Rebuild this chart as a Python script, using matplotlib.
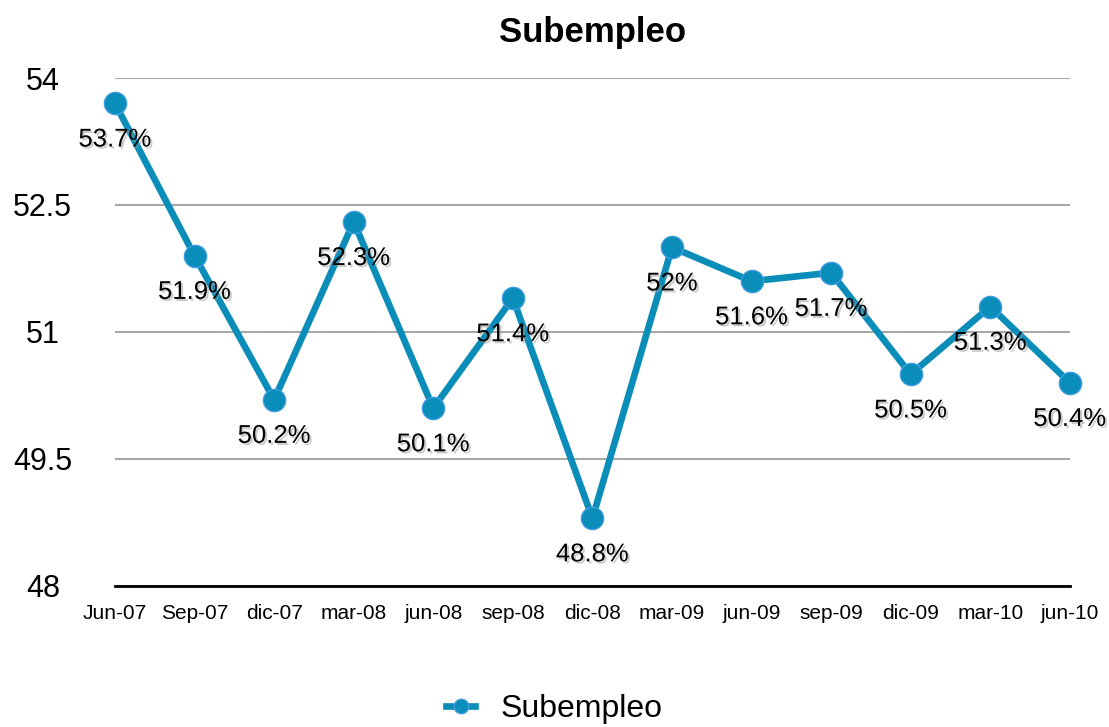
import matplotlib.pyplot as plt
import matplotlib.patheffects as pe

periods = ['Jun-07', 'Sep-07', 'dic-07', 'mar-08', 'jun-08', 'sep-08', 'dic-08',
           'mar-09', 'jun-09', 'sep-09', 'dic-09', 'mar-10', 'jun-10']
subempleo = [53.7, 51.9, 50.2, 52.3, 50.1, 51.4, 48.8, 52.0, 51.6, 51.7, 50.5, 51.3, 50.4]
yticks = [48, 49.5, 51, 52.5, 54]

plt.rcParams['font.family'] = ['Liberation Sans', 'DejaVu Sans']

fig = plt.figure(figsize=(11.09, 7.27), dpi=100)
ax = fig.add_axes([0.1037, 0.194, 0.861, 0.6987])

x = list(range(len(periods)))
ax.plot(x, subempleo, color='#0a8db8', linewidth=4.8, marker='o', markersize=16,
        markerfacecolor='#0a8db8', markeredgecolor='#3d9be0', markeredgewidth=1,
        label='Subempleo', clip_on=False, zorder=3)

shadow = [pe.withSimplePatchShadow(offset=(1.5, -1.5), shadow_rgbFace='#999999', alpha=0.5)]
for xi, v in zip(x, subempleo):
    ax.annotate(f'{v:g}%', (xi, v), xytext=(0, -26), textcoords='offset points',
                ha='center', va='center', fontsize=18.5, color='black',
                path_effects=shadow, zorder=4)

ax.set_xlim(0, len(periods) - 1)
ax.set_ylim(48, 54)
ax.set_yticks(yticks)
ax.set_yticklabels(['48', '49.5', '51', '52.5', '54'], fontsize=22)
ax.set_xticks(x)
ax.set_xticklabels(periods, fontsize=15)
ax.tick_params(length=0)
ax.tick_params(axis='y', pad=52)
ax.tick_params(axis='x', pad=13)
for lbl in ax.get_yticklabels():
    lbl.set_horizontalalignment('center')

ax.grid(axis='y', color='#a8a8a8', linewidth=1.5)
ax.set_axisbelow(True)
for s in ['left', 'right', 'top']:
    ax.spines[s].set_visible(False)
ax.spines['bottom'].set_linewidth(2)
ax.spines['bottom'].set_color('black')

ax.set_title('Subempleo', fontsize=25, fontweight='bold', pad=26)

fig.legend(loc='lower center', bbox_to_anchor=(0.5, -0.036), frameon=False, fontsize=23,
           handlelength=0.9, markerscale=0.65)

fig.savefig('out.png', dpi=100)
